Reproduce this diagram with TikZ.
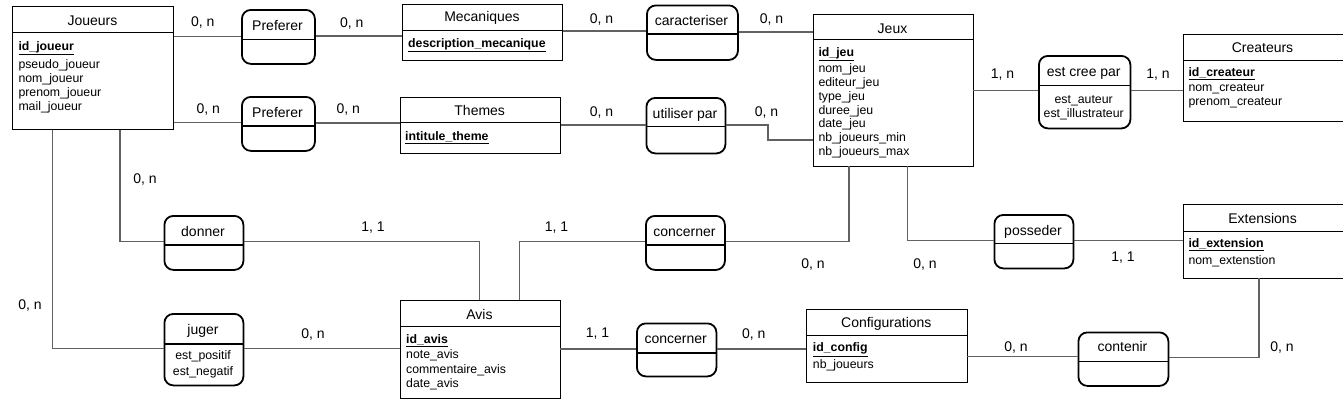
\documentclass[tikz,border=0pt]{standalone}
\usepackage{fontspec}
\setmainfont{Liberation Sans}
\newcommand\idf[1]{\underline{\textbf{#1}}}
\tikzset{
 ent/.style={draw=black, line width=0.9pt, rectangle, inner sep=0pt, anchor=north west},
 rel/.style={draw=black, line width=1.8pt, rectangle, rounded corners=9pt, inner sep=0pt, anchor=north west},
 ttl/.style={inner sep=0pt, font=\fontsize{14}{16}\selectfont, anchor=base},
 attr/.style={inner sep=0pt, font=\fontsize{12.3}{14}\selectfont, anchor=base west},
 rattr/.style={inner sep=0pt, font=\fontsize{12.3}{14}\selectfont, anchor=base},
 card/.style={inner sep=0pt, font=\fontsize{14}{16}\selectfont, anchor=base},
 conn/.style={draw=black!62, line width=1.2pt},
 div/.style={line width=0.9pt},
 rdiv/.style={line width=1.8pt},
}
\begin{document}
\begin{tikzpicture}[x=1pt,y=-1pt]
\path[fill=white,use as bounding box] (0,0) rectangle (1343,402);

% ---------- entities ----------
\node[ent, minimum width=161pt, minimum height=123pt] (joueurs) at (12,6) {};
\draw[div] (joueurs.west |- 0,32) -- (joueurs.east |- 0,32);
\node[ttl] (joueurs-t) at (92.5,25) {Joueurs};
\node[attr] (joueurs-id) at (18.3,50) {\idf{id\_joueur}};
\foreach \t [count=\i from 0] in {pseudo\_joueur, nom\_joueur, prenom\_joueur, mail\_joueur}
  \node[attr] (joueurs-a\i) at (18.3,{68+14.2*\i}) {\t};

\node[ent, minimum width=160pt, minimum height=56pt] (mecaniques) at (402,3.5) {};
\draw[div] (mecaniques.west |- 0,30) -- (mecaniques.east |- 0,30);
\node[ttl] (mecaniques-t) at (482,21.7) {Mecaniques};
\node[attr] (mecaniques-id) at (408,47.5) {\idf{description\_mecanique}};

\node[ent, minimum width=160.5pt, minimum height=56pt] (themes) at (399.5,97) {};
\draw[div] (themes.west |- 0,122.5) -- (themes.east |- 0,122.5);
\node[ttl] (themes-t) at (479.7,115) {Themes};
\node[attr] (themes-id) at (405,140.5) {\idf{intitule\_theme}};

\node[ent, minimum width=160pt, minimum height=152pt] (jeux) at (812.5,13.5) {};
\draw[div] (jeux.west |- 0,39.5) -- (jeux.east |- 0,39.5);
\node[ttl] (jeux-t) at (892.5,33) {Jeux};
\node[attr] (jeux-id) at (818.3,56.7) {\idf{id\_jeu}};
\foreach \t [count=\i from 0] in {nom\_jeu, editeur\_jeu, type\_jeu, duree\_jeu, date\_jeu, nb\_joueurs\_min, nb\_joueurs\_max}
  \node[attr] (jeux-a\i) at (818.3,{72.3+13.9*\i}) {\t};

\node[ent, minimum width=160pt, minimum height=87.5pt] (createurs) at (1182.5,33.5) {};
\draw[div] (createurs.west |- 0,60) -- (createurs.east |- 0,60);
\node[ttl] (createurs-t) at (1262.5,52.5) {Createurs};
\node[attr] (createurs-id) at (1188.3,76.7) {\idf{id\_createur}};
\node[attr] (createurs-a0) at (1188.3,91.3) {nom\_createur};
\node[attr] (createurs-a1) at (1188.3,105) {prenom\_createur};

\node[ent, minimum width=160pt, minimum height=73.5pt] (extensions) at (1182.5,204) {};
\draw[div] (extensions.west |- 0,231) -- (extensions.east |- 0,231);
\node[ttl] (extensions-t) at (1262.5,223) {Extensions};
\node[attr] (extensions-id) at (1188.3,247.3) {\idf{id\_extension}};
\node[attr] (extensions-a0) at (1188.3,264.7) {nom\_extenstion};

\node[ent, minimum width=160pt, minimum height=98.5pt] (avis) at (399.5,299.5) {};
\draw[div] (avis.west |- 0,326) -- (avis.east |- 0,326);
\node[ttl] (avis-t) at (479.5,319) {Avis};
\node[attr] (avis-id) at (406,343) {\idf{id\_avis}};
\node[attr] (avis-a0) at (406,358) {note\_avis};
\node[attr] (avis-a1) at (406,373) {commentaire\_avis};
\node[attr] (avis-a2) at (406,387.5) {date\_avis};

\node[ent, minimum width=160.5pt, minimum height=73.5pt] (configurations) at (806,308.5) {};
\draw[div] (configurations.west |- 0,335) -- (configurations.east |- 0,335);
\node[ttl] (configurations-t) at (886.3,327.3) {Configurations};
\node[attr] (configurations-id) at (812.7,351.7) {\idf{id\_config}};
\node[attr] (configurations-a0) at (812.7,368) {nb\_joueurs};

% ---------- relations ----------
\node[rel, minimum width=73pt, minimum height=54pt] (pref1) at (241,9) {};
\draw[rdiv] (pref1.west |- 0,39.5) -- (pref1.east |- 0,39.5);
\node[ttl] (pref1-t) at (277.5,30) {Preferer};

\node[rel, minimum width=73pt, minimum height=54pt] (pref2) at (241,96) {};
\draw[rdiv] (pref2.west |- 0,126.3) -- (pref2.east |- 0,126.3);
\node[ttl] (pref2-t) at (277.5,117.7) {Preferer};

\node[rel, minimum width=91pt, minimum height=54.5pt] (caract) at (646,4.5) {};
\draw[rdiv] (caract.west |- 0,34) -- (caract.east |- 0,34);
\node[ttl] (caract-t) at (691.5,25) {caracteriser};

\node[rel, minimum width=79pt, minimum height=55.5pt] (utiliser) at (645.5,97) {};
\draw[rdiv] (utiliser.west |- 0,126.5) -- (utiliser.east |- 0,126.5);
\node[ttl] (utiliser-t) at (685,118.5) {utiliser par};

\node[rel, minimum width=91.5pt, minimum height=72.5pt] (estcree) at (1038,55) {};
\draw[rdiv] (estcree.west |- 0,85.5) -- (estcree.east |- 0,85.5);
\node[ttl] (estcree-t) at (1083.7,76.7) {est cree par};
\node[rattr] (estcree-a0) at (1083.7,103.3) {est\_auteur};
\node[rattr] (estcree-a1) at (1083.7,117.3) {est\_illustrateur};

\node[rel, minimum width=79pt, minimum height=54pt] (donner) at (163.5,215) {};
\draw[rdiv] (donner.west |- 0,245) -- (donner.east |- 0,245);
\node[ttl] (donner-t) at (203,236.7) {donner};

\node[rel, minimum width=79pt, minimum height=54pt] (concerner1) at (645,215) {};
\draw[rdiv] (concerner1.west |- 0,245) -- (concerner1.east |- 0,245);
\node[ttl] (concerner1-t) at (684.5,236.5) {concerner};

\node[rel, minimum width=79pt, minimum height=53.5pt] (posseder) at (993.5,214) {};
\draw[rdiv] (posseder.west |- 0,243.5) -- (posseder.east |- 0,243.5);
\node[ttl] (posseder-t) at (1033,235) {posseder};

\node[rel, minimum width=79pt, minimum height=71.5pt] (juger) at (163.5,313) {};
\draw[rdiv] (juger.west |- 0,344.3) -- (juger.east |- 0,344.3);
\node[ttl] (juger-t) at (203,334) {juger};
\node[rattr] (juger-a0) at (203,359.7) {est\_positif};
\node[rattr] (juger-a1) at (203,375.7) {est\_negatif};

\node[rel, minimum width=79.5pt, minimum height=53pt] (concerner2) at (636,322.5) {};
\draw[rdiv] (concerner2.west |- 0,352.7) -- (concerner2.east |- 0,352.7);
\node[ttl] (concerner2-t) at (675.7,343) {concerner};

\node[rel, minimum width=90pt, minimum height=53.5pt] (contenir) at (1077.5,331.5) {};
\draw[rdiv] (contenir.west |- 0,361.5) -- (contenir.east |- 0,361.5);
\node[ttl] (contenir-t) at (1122.5,351.7) {contenir};

% ---------- connectors ----------
\draw[conn] (joueurs.east |- 0,36.5) -- (pref1.west |- 0,36.5);
\draw[conn] (pref1.east |- 0,36) -- (mecaniques.west |- 0,36);
\draw[conn] (mecaniques.east |- 0,31) -- (caract.west |- 0,31);
\draw[conn] (caract.east |- 0,32) -- (jeux.west |- 0,32);
\draw[conn] (joueurs.east |- 0,122.3) -- (pref2.west |- 0,122.3);
\draw[conn] (pref2.east |- 0,123) -- (themes.west |- 0,123);
\draw[conn] (themes.east |- 0,125) -- (utiliser.west |- 0,125);
\draw[conn] (utiliser.east |- 0,125) -- (768,125) |- (jeux.west |- 0,140);
\draw[conn] (jeux.east |- 0,90.7) -- (estcree.west |- 0,90.7);
\draw[conn] (estcree.east |- 0,90.7) -- (createurs.west |- 0,90.7);
\draw[conn] (joueurs.south -| 120,0) |- (donner.west |- 0,241.7);
\draw[conn] (donner.east |- 0,241.7) -| (avis.north -| 479.3,0);
\draw[conn] (joueurs.south -| 52.3,0) |- (juger.west |- 0,348.7);
\draw[conn] (juger.east |- 0,348.5) -- (avis.west |- 0,348.5);
\draw[conn] (avis.north -| 519.3,0) |- (concerner1.west |- 0,241.7);
\draw[conn] (concerner1.east |- 0,241.7) -| (jeux.south -| 849,0);
\draw[conn] (jeux.south -| 907.3,0) |- (posseder.west |- 0,240.7);
\draw[conn] (posseder.east |- 0,240.7) -- (extensions.west |- 0,240.7);
\draw[conn] (avis.east |- 0,349) -- (concerner2.west |- 0,349);
\draw[conn] (concerner2.east |- 0,349) -- (configurations.west |- 0,349);
\draw[conn] (configurations.east |- 0,356.5) -- (contenir.west |- 0,356.5);
\draw[conn] (contenir.east |- 0,357.3) -| (extensions.south -| 1259,0);

% ---------- cardinalities ----------
\node[card] (c1) at (202.7,26.7) {0, n};
\node[card] (c2) at (351.7,27.5) {0, n};
\node[card] (c3) at (601.6,23.3) {0, n};
\node[card] (c4) at (771.6,23.3) {0, n};
\node[card] (c5) at (208.3,113.3) {0, n};
\node[card] (c6) at (348.3,113.3) {0, n};
\node[card] (c7) at (601.6,116.7) {0, n};
\node[card] (c8) at (766.6,116.7) {0, n};
\node[card] (c9) at (1002.5,78.3) {1, n};
\node[card] (c10) at (1158,78) {1, n};
\node[card] (c11) at (145,183.3) {0, n};
\node[card] (c12) at (373,231.7) {1, 1};
\node[card] (c13) at (556.5,231.7) {1, 1};
\node[card] (c14) at (813,268) {0, n};
\node[card] (c15) at (925,268) {0, n};
\node[card] (c16) at (1123,261.7) {1, 1};
\node[card] (c17) at (30,309) {0, n};
\node[card] (c18) at (313,338.3) {0, n};
\node[card] (c19) at (597.5,337.7) {1, 1};
\node[card] (c20) at (753.7,338) {0, n};
\node[card] (c21) at (1016,351.7) {0, n};
\node[card] (c22) at (1282,351) {0, n};
\end{tikzpicture}
\end{document}
